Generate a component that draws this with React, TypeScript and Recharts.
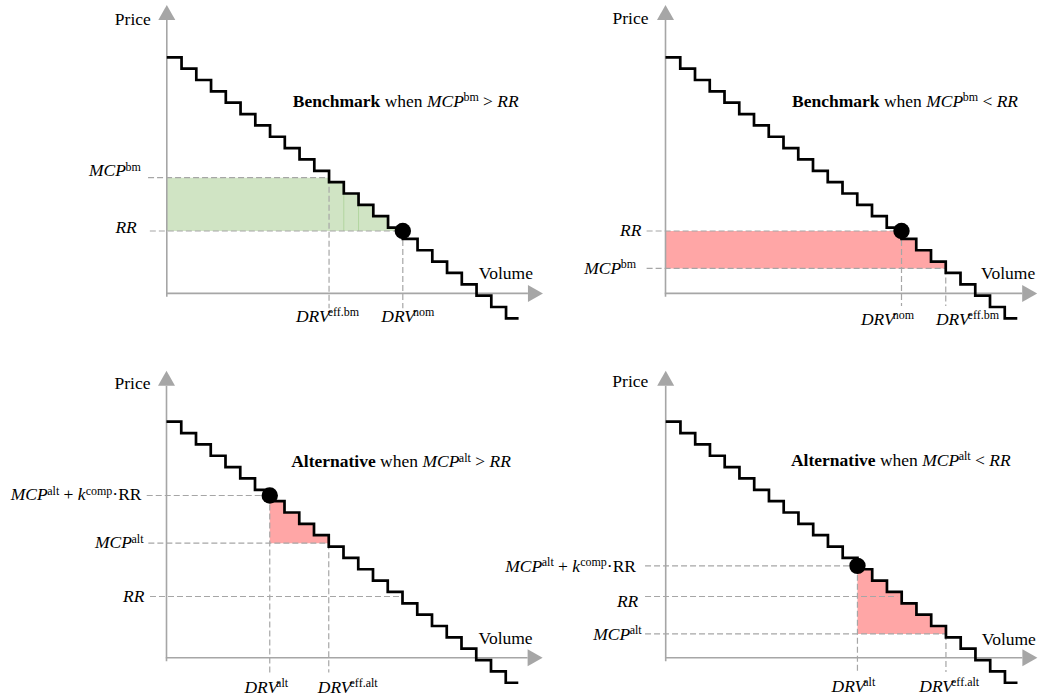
import React from 'react';
import {
  ComposedChart,
  Line,
  Area,
  XAxis,
  YAxis,
  ReferenceLine,
  ReferenceDot,
} from 'recharts';

// Stepwise demand bid curve shared by all four panels:
// each block starts at a volume and holds a constant price.
const BLOCK_VOLUMES = [0, 1, 2, 3, 4, 5, 6, 7, 8, 9, 10, 11, 12, 13, 14, 15, 16, 17, 18, 19, 20, 21, 22, 23];
const BLOCK_PRICES = [
  20.8, 19.8, 18.8, 17.8, 16.8, 15.8, 14.8, 13.8, 12.8, 11.8, 10.8, 9.8,
  8.8, 7.8, 6.8, 5.8, 4.8, 3.8, 2.8, 1.8, 0.8, -0.2, -1.2, -2.2,
];
const CURVE_END_VOLUME = 23.85;

// Benchmark when MCP^bm > RR
const BM_UP_MCP = 10.2;
const BM_UP_RR = 5.5;
const BM_UP_DRV_NOM = 16;
const BM_UP_DRV_EFF = 11;
const BM_UP_BLOCK_EDGES = [12, 13];

// Benchmark when MCP^bm < RR
const BM_DOWN_RR = 5.5;
const BM_DOWN_MCP = 2.2;
const BM_DOWN_DRV_NOM = 16;
const BM_DOWN_DRV_EFF = 19;

// Alternative when MCP^alt > RR
const ALT_UP_MCP_K = 14.3;
const ALT_UP_MCP = 10.1;
const ALT_UP_RR = 5.4;
const ALT_UP_DRV = 7;
const ALT_UP_DRV_EFF = 11;

// Alternative when MCP^alt < RR
const ALT_DOWN_MCP_K = 8.1;
const ALT_DOWN_RR = 5.4;
const ALT_DOWN_MCP = 2.1;
const ALT_DOWN_DRV = 13;
const ALT_DOWN_DRV_EFF = 19;

// ---------------------------------------------------------------------------

const UX = 14.75; // px per volume block
const UY = 11.35; // px per price unit
const FONT = "'Liberation Serif', 'Times New Roman', Times, serif";
const AXIS_COLOR = '#a6a6a6';
const GUIDE_COLOR = '#a6a6a6';
const GREEN = '#d0e4c4';
const GREEN_EDGE = '#b2d5a0';
const PINK = '#ffa6a6';

const curveData = [
  ...BLOCK_VOLUMES.map((v, i) => ({ volume: v, price: BLOCK_PRICES[i] })),
  { volume: CURVE_END_VOLUME, price: BLOCK_PRICES[BLOCK_PRICES.length - 1] },
];

type Run = { t: string; it?: boolean; bold?: boolean; sup?: boolean; dx?: number };
type TextSpec = {
  x: number;
  y: number;
  dx?: number;
  dy?: number;
  anchor?: 'start' | 'middle' | 'end';
  runs: Run[];
};
type Seg = [[number, number], [number, number]];
type Shade = { from: number; to: number; low: number; high: number; color: string };
type PanelSpec = {
  box: { left: number; top: number; width: number; height: number };
  origin: { x: number; y: number };
  xTip: number;
  yTip: number;
  shade: Shade;
  edges?: { x: number; low: number; high: number }[];
  guides: Seg[];
  dot: [number, number];
  texts: TextSpec[];
};

const mcp = (sup: string): Run[] => [{ t: 'MCP', it: true }, { t: sup, sup: true, dx: -0.5 }];
const drv = (sup: string): Run[] => [{ t: 'DRV', it: true }, { t: sup, sup: true, dx: -2 }];
const rr: Run[] = [{ t: 'RR', it: true }];
const mcpK: Run[] = [
  ...mcp('alt'),
  { t: ' + ' },
  { t: 'k', it: true },
  { t: 'comp', sup: true },
  { t: '\u00B7RR' },
];
const title = (word: string, rel: string, sup: string): Run[] => [
  { t: word, bold: true },
  { t: ' when ' },
  ...mcp(sup),
  { t: ` ${rel} ` },
  { t: 'RR', it: true },
];

function RichText({ x, y, spec }: { x: number; y: number; spec: TextSpec }) {
  const base = 17.5;
  const small = 12;
  const rise = 5.5;
  let lifted = false;
  const spans = spec.runs.map((r, i) => {
    let dy = 0;
    if (r.sup && !lifted) {
      dy = -rise;
      lifted = true;
    } else if (!r.sup && lifted) {
      dy = rise;
      lifted = false;
    }
    return (
      <tspan
        key={i}
        dy={dy || undefined}
        dx={r.dx}
        fontSize={r.sup ? small : base}
        fontStyle={r.it ? 'italic' : 'normal'}
        fontWeight={r.bold ? 'bold' : 'normal'}
      >
        {r.t}
      </tspan>
    );
  });
  return (
    <text
      x={x + (spec.dx || 0)}
      y={y + (spec.dy || 0)}
      textAnchor={spec.anchor || 'start'}
      fontFamily={FONT}
      fontSize={base}
      fill="#000"
      style={{ whiteSpace: 'pre' }}
    >
      {spans}
    </text>
  );
}

const arrowShape = (props: any) => {
  const { x1, y1, x2, y2 } = props;
  const len = Math.hypot(x2 - x1, y2 - y1) || 1;
  const ux = (x2 - x1) / len;
  const uy = (y2 - y1) / len;
  const headL = 15;
  const headW = 8.5;
  const bx = x2 - ux * headL;
  const by = y2 - uy * headL;
  const px = -uy;
  const py = ux;
  return (
    <g>
      <line x1={x1} y1={y1} x2={bx} y2={by} stroke={AXIS_COLOR} strokeWidth={1.6} />
      <polygon
        points={`${x2},${y2} ${bx + px * headW},${by + py * headW} ${bx - px * headW},${by - py * headW}`}
        fill={AXIS_COLOR}
      />
    </g>
  );
};

function Panel({ spec }: { spec: PanelSpec }) {
  const { box, origin, shade } = spec;
  const xMin = -(origin.x - box.left) / UX;
  const xMax = xMin + box.width / UX;
  const yMax = (origin.y - box.top) / UY;
  const yMin = yMax - box.height / UY;

  const shadeKey = (row: { volume: number; price: number }) => {
    if (row.volume < shade.from || row.volume > shade.to) return null;
    if (row.volume === shade.to) return [shade.low, shade.low];
    return [shade.low, Math.min(shade.high, row.price)];
  };

  return (
    <div style={{ position: 'absolute', left: box.left, top: box.top }}>
      <ComposedChart
        width={box.width}
        height={box.height}
        data={curveData}
        margin={{ top: 0, right: 0, bottom: 0, left: 0 }}
      >
        <XAxis type="number" dataKey="volume" domain={[xMin, xMax]} allowDataOverflow hide />
        <YAxis type="number" domain={[yMin, yMax]} allowDataOverflow hide />
        <Area
          type="stepAfter"
          dataKey={shadeKey as any}
          fill={shade.color}
          fillOpacity={1}
          stroke="none"
          isAnimationActive={false}
          dot={false}
          activeDot={false}
        />
        {(spec.edges || []).map((e, i) => (
          <ReferenceLine
            key={`e${i}`}
            segment={[
              { x: e.x, y: e.low },
              { x: e.x, y: e.high },
            ]}
            stroke={GREEN_EDGE}
            strokeWidth={1}
          />
        ))}
        {spec.guides.map((g, i) => (
          <ReferenceLine
            key={`g${i}`}
            segment={[
              { x: g[0][0], y: g[0][1] },
              { x: g[1][0], y: g[1][1] },
            ]}
            stroke={GUIDE_COLOR}
            strokeWidth={1.2}
            strokeDasharray="6 3"
          />
        ))}
        <ReferenceLine
          segment={[
            { x: -0.05, y: 0 },
            { x: spec.xTip, y: 0 },
          ]}
          shape={arrowShape}
        />
        <ReferenceLine
          segment={[
            { x: 0, y: -0.3 },
            { x: 0, y: spec.yTip },
          ]}
          shape={arrowShape}
        />
        <Line
          type="stepAfter"
          dataKey="price"
          stroke="#000"
          strokeWidth={2.7}
          dot={false}
          activeDot={false}
          isAnimationActive={false}
        />
        <ReferenceDot x={spec.dot[0]} y={spec.dot[1]} r={8.2} fill="#000" stroke="none" />
        {spec.texts.map((t, i) => (
          <ReferenceDot
            key={`t${i}`}
            x={t.x}
            y={t.y}
            r={0}
            shape={(p: any) => <RichText x={p.cx} y={p.cy} spec={t} />}
          />
        ))}
      </ComposedChart>
    </div>
  );
}

const PANELS: PanelSpec[] = [
  {
    box: { left: 0, top: 0, width: 552, height: 352 },
    origin: { x: 166.8, y: 293.4 },
    xTip: 25.5,
    yTip: 25.4,
    shade: { from: 0, to: BM_UP_DRV_NOM, low: BM_UP_RR, high: BM_UP_MCP, color: GREEN },
    edges: BM_UP_BLOCK_EDGES.map((v) => ({
      x: v,
      low: BM_UP_RR,
      high: Math.min(BM_UP_MCP, BLOCK_PRICES[BLOCK_VOLUMES.indexOf(v) - 1]),
    })),
    guides: [
      [[-1.27, BM_UP_MCP], [BM_UP_DRV_EFF, BM_UP_MCP]],
      [[-1.15, BM_UP_RR], [BM_UP_DRV_NOM, BM_UP_RR]],
      [[BM_UP_DRV_EFF, BM_UP_MCP], [BM_UP_DRV_EFF, -1.3]],
      [[BM_UP_DRV_NOM, BM_UP_RR], [BM_UP_DRV_NOM, -1.3]],
    ],
    dot: [BM_UP_DRV_NOM, BM_UP_RR],
    texts: [
      { x: 0, y: 25.4, dx: -16, dy: 20, anchor: 'end', runs: [{ t: 'Price' }] },
      { x: 25.5, y: 0, dx: -10, dy: -14, anchor: 'end', runs: [{ t: 'Volume' }] },
      { x: 16.2, y: 16.45, anchor: 'middle', runs: title('Benchmark', '>', 'bm') },
      { x: 0, y: BM_UP_MCP, dx: -26, dy: -1.5, anchor: 'end', runs: mcp('bm') },
      { x: 0, y: BM_UP_RR, dx: -30, dy: 2.5, anchor: 'end', runs: rr },
      { x: BM_UP_DRV_EFF, y: 0, dx: -1.5, dy: 28.5, anchor: 'middle', runs: drv('eff.bm') },
      { x: BM_UP_DRV_NOM, y: 0, dx: 5, dy: 28.5, anchor: 'middle', runs: drv('nom') },
    ],
  },
  {
    box: { left: 480, top: 0, width: 558, height: 352 },
    origin: { x: 665.5, y: 293.4 },
    xTip: 25.2,
    yTip: 25.4,
    shade: { from: 0, to: BM_DOWN_DRV_EFF, low: BM_DOWN_MCP, high: BM_DOWN_RR, color: PINK },
    guides: [
      [[-1.28, BM_DOWN_RR], [BM_DOWN_DRV_NOM, BM_DOWN_RR]],
      [[-1.28, BM_DOWN_MCP], [BM_DOWN_DRV_EFF, BM_DOWN_MCP]],
      [[BM_DOWN_DRV_NOM, BM_DOWN_RR], [BM_DOWN_DRV_NOM, -1.1]],
      [[BM_DOWN_DRV_EFF, BM_DOWN_MCP], [BM_DOWN_DRV_EFF, -1.1]],
    ],
    dot: [BM_DOWN_DRV_NOM, BM_DOWN_RR],
    texts: [
      { x: 0, y: 25.4, dx: -17, dy: 19, anchor: 'end', runs: [{ t: 'Price' }] },
      { x: 25.2, y: 0, dx: -2, dy: -14, anchor: 'end', runs: [{ t: 'Volume' }] },
      { x: 16.24, y: 16.45, anchor: 'middle', runs: title('Benchmark', '<', 'bm') },
      { x: 0, y: BM_DOWN_RR, dx: -24, dy: 5, anchor: 'end', runs: rr },
      { x: 0, y: BM_DOWN_MCP, dx: -29.5, dy: 5.5, anchor: 'end', runs: mcp('bm') },
      { x: BM_DOWN_DRV_NOM, y: 0, dx: -14, dy: 31.5, anchor: 'middle', runs: drv('nom') },
      { x: BM_DOWN_DRV_EFF, y: 0, dx: 21.7, dy: 31.5, anchor: 'middle', runs: drv('eff.bm') },
    ],
  },
  {
    box: { left: 0, top: 350, width: 552, height: 349 },
    origin: { x: 166.5, y: 657.8 },
    xTip: 25.5,
    yTip: 25.3,
    shade: { from: ALT_UP_DRV, to: ALT_UP_DRV_EFF, low: ALT_UP_MCP, high: ALT_UP_MCP_K, color: PINK },
    guides: [
      [[-1.34, ALT_UP_MCP_K], [ALT_UP_DRV, ALT_UP_MCP_K]],
      [[-1.23, ALT_UP_MCP], [ALT_UP_DRV_EFF, ALT_UP_MCP]],
      [[-1.12, ALT_UP_RR], [15.8, ALT_UP_RR]],
      [[ALT_UP_DRV, ALT_UP_MCP_K], [ALT_UP_DRV, -1.3]],
      [[ALT_UP_DRV_EFF, ALT_UP_MCP], [ALT_UP_DRV_EFF, -1.3]],
    ],
    dot: [ALT_UP_DRV, ALT_UP_MCP_K],
    texts: [
      { x: 0, y: 25.3, dx: -16, dy: 18, anchor: 'end', runs: [{ t: 'Price' }] },
      { x: 25.5, y: 0, dx: -10, dy: -14, anchor: 'end', runs: [{ t: 'Volume' }] },
      { x: 15.9, y: 16.8, anchor: 'middle', runs: title('Alternative', '>', 'alt') },
      { x: 0, y: ALT_UP_MCP_K, dx: -25, dy: 5, anchor: 'end', runs: mcpK },
      { x: 0, y: ALT_UP_MCP, dx: -23, dy: 5, anchor: 'end', runs: mcp('alt') },
      { x: 0, y: ALT_UP_RR, dx: -22, dy: 5.5, anchor: 'end', runs: rr },
      { x: ALT_UP_DRV, y: 0, dx: -3.5, dy: 35, anchor: 'middle', runs: drv('alt') },
      { x: ALT_UP_DRV_EFF, y: 0, dx: 19, dy: 35, anchor: 'middle', runs: drv('eff.alt') },
    ],
  },
  {
    box: { left: 480, top: 350, width: 558, height: 349 },
    origin: { x: 665.7, y: 657.8 },
    xTip: 25.2,
    yTip: 25.3,
    shade: { from: ALT_DOWN_DRV, to: ALT_DOWN_DRV_EFF, low: ALT_DOWN_MCP, high: ALT_DOWN_MCP_K, color: PINK },
    guides: [
      [[-1.4, ALT_DOWN_MCP_K], [ALT_DOWN_DRV, ALT_DOWN_MCP_K]],
      [[-1.4, ALT_DOWN_RR], [15.7, ALT_DOWN_RR]],
      [[-1.4, ALT_DOWN_MCP], [ALT_DOWN_DRV_EFF, ALT_DOWN_MCP]],
      [[ALT_DOWN_DRV, ALT_DOWN_MCP_K], [ALT_DOWN_DRV, -1.25]],
      [[ALT_DOWN_DRV_EFF, ALT_DOWN_MCP], [ALT_DOWN_DRV_EFF, -1.25]],
    ],
    dot: [ALT_DOWN_DRV, ALT_DOWN_MCP_K],
    texts: [
      { x: 0, y: 25.3, dx: -17.4, dy: 16.5, anchor: 'end', runs: [{ t: 'Price' }] },
      { x: 25.2, y: 0, dx: -1.5, dy: -13, anchor: 'end', runs: [{ t: 'Volume' }] },
      { x: 15.94, y: 16.9, anchor: 'middle', runs: title('Alternative', '<', 'alt') },
      { x: 0, y: ALT_DOWN_MCP_K, dx: -29.7, dy: 6, anchor: 'end', runs: mcpK },
      { x: 0, y: ALT_DOWN_RR, dx: -27.4, dy: 10.7, anchor: 'end', runs: rr },
      { x: 0, y: ALT_DOWN_MCP, dx: -24, dy: 6, anchor: 'end', runs: mcp('alt') },
      { x: ALT_DOWN_DRV, y: 0, dx: -4, dy: 34, anchor: 'middle', runs: drv('alt') },
      { x: ALT_DOWN_DRV_EFF, y: 0, dx: 3.3, dy: 34, anchor: 'middle', runs: drv('eff.alt') },
    ],
  },
];

export default function App() {
  return (
    <div
      style={{
        position: 'absolute',
        left: 0,
        top: 0,
        width: 1038,
        height: 699,
        background: '#fff',
        overflow: 'hidden',
      }}
    >
      {PANELS.map((p, i) => (
        <Panel key={i} spec={p} />
      ))}
    </div>
  );
}
